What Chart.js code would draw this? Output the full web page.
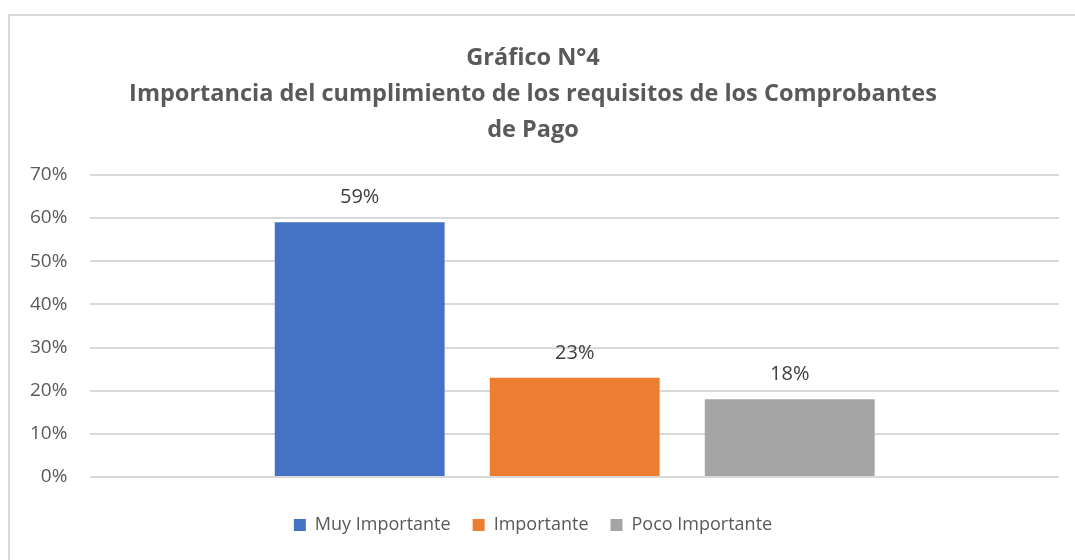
<!DOCTYPE html>
<html>
<head>
<meta charset="utf-8">
<script src="https://cdn.jsdelivr.net/npm/chart.js@4/dist/chart.umd.min.js"></script>
<style>
  html, body { margin: 0; padding: 0; background: #fff; }
  #wrap { position: relative; width: 1075px; height: 560px; overflow: hidden; }
  #frame { position: absolute; left: 8px; top: 14px; width: 1200px; height: 700px;
           border-left: 2px solid #d9d9d9; border-top: 2px solid #d9d9d9; }
  canvas { position: absolute; left: 0; top: 0; }
</style>
</head>
<body>
<div id="wrap">
  <div id="frame"></div>
  <canvas id="grafico" width="1075" height="560"></canvas>
</div>
<script>
// Gráfico N°4 – importancia del cumplimiento de requisitos

const titulo = [
  "Gráfico N°4",
  "Importancia del cumplimiento de los requisitos de los Comprobantes",
  "de Pago",
];
const categorias = [""];
const series = ["Muy Importante", "Importante", "Poco Importante"];
const valores = [0.59, 0.23, 0.18];
const colores = ["#4472c4", "#ed7d31", "#a5a5a5"];

const pct = (v) => Math.round(v * 100) + "%";

// etiquetas de datos encima de cada barra
const etiquetas = {
  id: "etiquetas",
  afterDatasetsDraw(chart) {
    const ctx = chart.ctx;
    ctx.save();
    ctx.font = "20px 'Open Sans'";
    ctx.fillStyle = "#404040";
    ctx.textAlign = "center";
    ctx.textBaseline = "alphabetic";
    chart.data.datasets.forEach((ds, i) => {
      chart.getDatasetMeta(i).data.forEach((bar, j) => {
        ctx.fillText(pct(ds.data[j]), bar.x, bar.y - 19);
      });
    });
    ctx.restore();
  },
};

const datasets = series.map((nombre, i) => ({
  label: nombre,
  data: [valores[i]],
  backgroundColor: colores[i],
  borderWidth: 0,
  categoryPercentage: 0.666,
  barPercentage: 0.79,
}));

new Chart(document.getElementById("grafico"), {
  type: "bar",
  data: { labels: categorias, datasets },
  plugins: [etiquetas],
  options: {
    responsive: false,
    animation: false,
    layout: { padding: { top: 18, left: 7, right: 16, bottom: 16 } },
    plugins: {
      title: {
        display: true,
        text: titulo,
        color: "#595959",
        font: { family: "'Open Sans'", size: 23.5, weight: "bold", lineHeight: 1.53 },
        padding: { top: 22, bottom: 27 },
      },
      legend: {
        position: "bottom",
        labels: {
          color: "#595959",
          font: { family: "'Open Sans'", size: 18 },
          boxWidth: 12,
          boxHeight: 12,
          padding: 22,
        },
      },
      tooltip: { enabled: false },
    },
    scales: {
      x: {
        grid: { display: false },
        border: { display: false },
        ticks: { display: false },
        afterFit: (s) => { s.height = 17; },
      },
      y: {
        min: 0,
        max: 0.7,
        ticks: {
          stepSize: 0.1,
          color: "#595959",
          font: { family: "'Open Sans'", size: 19 },
          padding: 23,
          callback: (v) => pct(v),
        },
        grid: { color: "#d9d9d9", lineWidth: 2, drawTicks: false },
        border: { display: false },
      },
    },
  },
});
</script>
</body>
</html>
